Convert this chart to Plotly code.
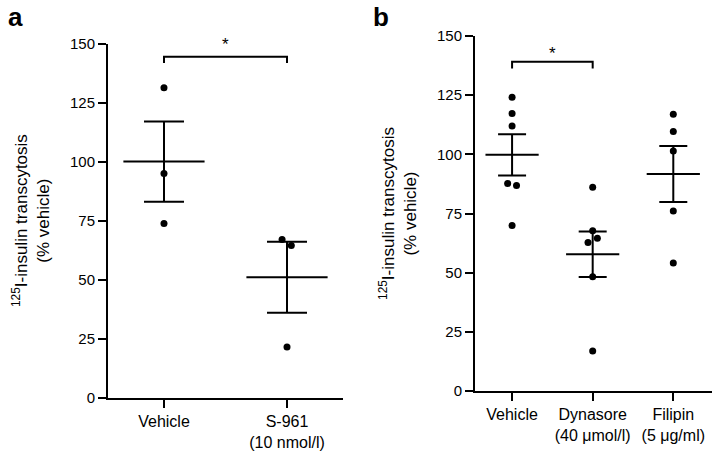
import plotly.graph_objects as go

# ---------------- data ----------------
cats_a = ["Vehicle", "S-961<br>(10 nmol/l)"]
pts_a = [[131.3, 95.0, 73.8], [67.0, 64.5, 21.5]]
jit_a = [[0.0, 0.0, 0.0], [-0.04, 0.035, 0.0]]
mean_a = [100.0, 51.0]
sem_a = [17.0, 15.0]

cats_b = ["Vehicle", "Dynasore<br>(40 μmol/l)", "Filipin<br>(5 μg/ml)"]
pts_b = [[124.1, 117.3, 112.0, 87.7, 86.8, 69.9],
         [86.1, 67.7, 64.6, 62.8, 48.3, 16.9],
         [116.9, 109.7, 101.4, 76.1, 54.1]]
jit_b = [[0.0, 0.0, 0.0, -0.055, 0.055, 0.0],
         [0.0, 0.0, 0.058, -0.058, 0.0, 0.0],
         [0.0, 0.0, 0.0, 0.0, 0.0]]
mean_b = [99.8, 57.8, 91.7]
sem_b = [8.7, 9.6, 11.8]

yticks = [0, 25, 50, 75, 100, 125, 150]
# significance brackets: (group1, group2, bar level, drop level, star level)
sig_a = [0, 1, 144.4, 141.7, 149.5]
sig_b = [0, 1, 139.1, 136.3, 142.8]

FONT = "Liberation Sans, Arial, sans-serif"
HALF_MEAN = 0.33

fig = go.Figure()


def add_panel(cats, pts, jit, means, sems, xa, ya, capw):
    xs, ys = [], []
    for i, (g, j) in enumerate(zip(pts, jit)):
        for v, o in zip(g, j):
            xs.append(i + o)
            ys.append(v)
    fig.add_trace(go.Scatter(x=xs, y=ys, mode="markers", xaxis=xa, yaxis=ya,
                             marker=dict(color="black", size=7),
                             showlegend=False, hoverinfo="skip"))
    # SEM error bars
    fig.add_trace(go.Scatter(x=list(range(len(cats))), y=means, mode="markers",
                             xaxis=xa, yaxis=ya,
                             marker=dict(color="rgba(0,0,0,0)", size=1),
                             error_y=dict(type="data", array=sems, color="black",
                                          thickness=2, width=capw),
                             showlegend=False, hoverinfo="skip"))
    # mean lines
    mx, my = [], []
    for i, m in enumerate(means):
        mx += [i - HALF_MEAN, i + HALF_MEAN, None]
        my += [m, m, None]
    fig.add_trace(go.Scatter(x=mx, y=my, mode="lines", xaxis=xa, yaxis=ya,
                             line=dict(color="black", width=2),
                             showlegend=False, hoverinfo="skip"))


add_panel(cats_a, pts_a, jit_a, mean_a, sem_a, "x", "y", 20)
add_panel(cats_b, pts_b, jit_b, mean_b, sem_b, "x2", "y2", 14)


def add_sig(sig, xr, yr):
    g1, g2, top, drop, star = sig
    fig.add_shape(type="path", xref=xr, yref=yr,
                  path=f"M {g1} {drop} L {g1} {top} L {g2} {top} L {g2} {drop}",
                  line=dict(color="#000000", width=2))
    fig.add_annotation(x=(g1 + g2) / 2, y=star, xref=xr, yref=yr, text="*",
                       showarrow=False, font=dict(family=FONT, size=17, color="#000000"))


add_sig(sig_a, "x", "y")
add_sig(sig_b, "x2", "y2")

ytitle = "<sup>125</sup>I-insulin transcytosis<br>(% vehicle)"

axis_common = dict(showline=True, linecolor="black", linewidth=2, showgrid=False,
                   zeroline=False, ticks="outside", ticklen=8, tickwidth=1.8,
                   tickcolor="black", automargin=False)

fig.update_layout(
    width=721, height=456,
    margin=dict(l=0, r=0, t=0, b=0),
    paper_bgcolor="white", plot_bgcolor="white",
    font=dict(family=FONT, color="black"),
    xaxis=dict(domain=[0.1498, 0.4757], range=[-0.455, 1.455],
               tickvals=list(range(len(cats_a))), ticktext=cats_a,
               tickfont=dict(size=16), anchor="y", **axis_common),
    yaxis=dict(domain=[0.1278, 0.9046], range=[0, 150], tickvals=yticks,
               tickfont=dict(size=15), anchor="x",
               title=dict(text=ytitle, font=dict(size=17), standoff=16),
               **axis_common),
    xaxis2=dict(domain=[0.6588, 0.9875], range=[-0.46, 2.48],
                tickvals=list(range(len(cats_b))), ticktext=cats_b,
                tickfont=dict(size=16), anchor="y2", **axis_common),
    yaxis2=dict(domain=[0.1425, 0.921], range=[0, 150], tickvals=yticks,
                tickfont=dict(size=15), anchor="x2",
                title=dict(text=ytitle, font=dict(size=17), standoff=16),
                **axis_common),
)

fig.add_annotation(x=0.008, y=1.0, xref="paper", yref="paper", text="<b>a</b>",
                   showarrow=False, xanchor="left", yanchor="top",
                   font=dict(family=FONT, size=26, color="black"))
fig.add_annotation(x=0.515, y=1.0, xref="paper", yref="paper", text="<b>b</b>",
                   showarrow=False, xanchor="left", yanchor="top",
                   font=dict(family=FONT, size=26, color="black"))

fig.write_html("out.html", config={"displayModeBar": False},
               post_script="document.body.style.margin='0';document.body.style.overflow='hidden';")
